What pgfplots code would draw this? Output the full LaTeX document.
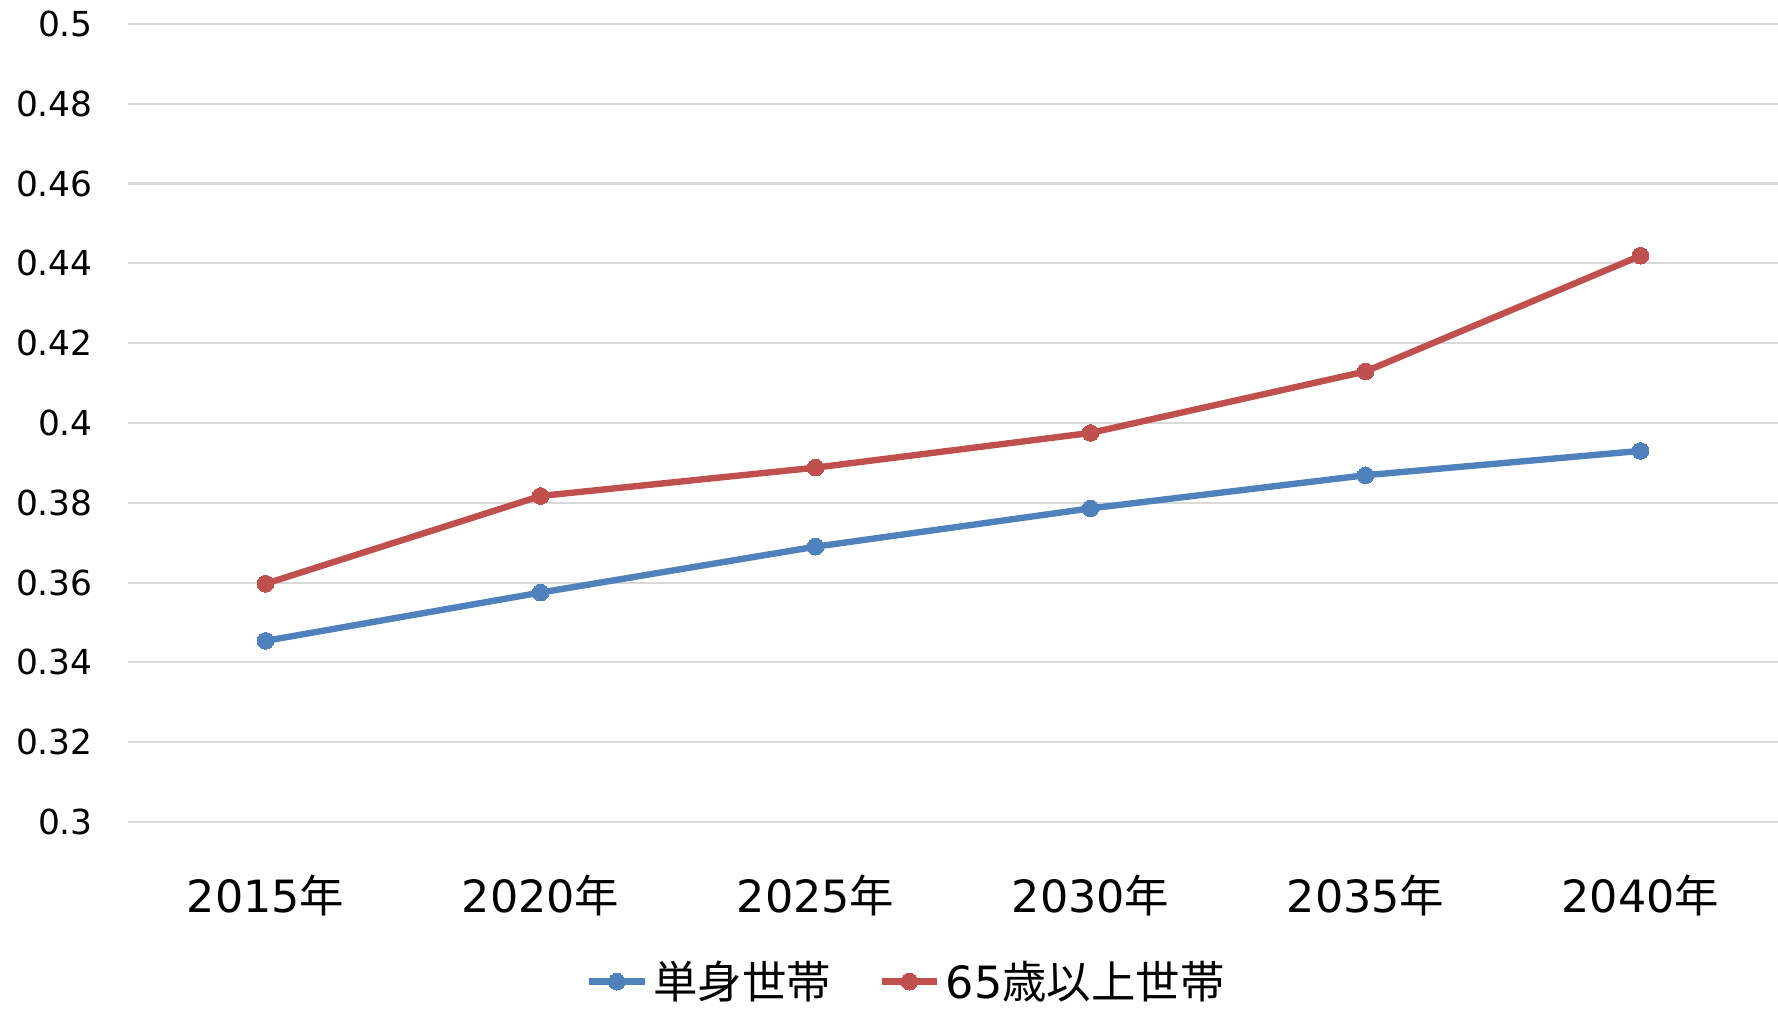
\documentclass[border=0pt]{standalone}
\usepackage{pgfplots}
\pgfplotsset{compat=1.18}
\usepackage{fontspec}
\setmainfont{DejaVu Sans}
\newfontfamily\jp{Noto Sans CJK JP}
\definecolor{serA}{HTML}{4F81BD}
\definecolor{serB}{HTML}{C0504D}
\definecolor{gridc}{HTML}{D9D9D9}
\begin{document}
\begin{tikzpicture}
\useasboundingbox (0,0) rectangle (640pt,362.9pt);
\begin{axis}[
  at={(46.1pt,67pt)}, anchor=south west,
  scale only axis, width=593.9pt, height=287.3pt,
  xmin=-0.5, xmax=5.5, ymin=0.3, ymax=0.5,
  axis line style={draw=none},
  major tick length=0pt,
  ymajorgrids, grid style={gridc, line width=0.75pt},
  ytick={0.3,0.32,...,0.5},
  yticklabels={0.3,0.32,0.34,0.36,0.38,0.4,0.42,0.44,0.46,0.48,0.5},
  yticklabel style={font=\fontsize{12.4}{14}\selectfont, anchor=east, inner sep=0pt, xshift=-12.5pt},
  xtick={0,1,2,3,4,5},
  xticklabels={2015{\jp 年},2020{\jp 年},2025{\jp 年},2030{\jp 年},2035{\jp 年},2040{\jp 年}},
  xticklabel style={font=\fontsize{16}{18}\selectfont, anchor=center, inner sep=0pt, yshift=-26.6pt},
  legend columns=2,
  legend style={draw=none, fill=none, at={(0.4727,-0.2000)}, anchor=center,
    font=\fontsize{16}{18}\selectfont, inner sep=0pt,
    /tikz/every odd column/.append style={column sep=0pt},
    /tikz/every even column/.append style={column sep=15pt}},
  legend image code/.code={\draw[mark repeat=2,mark phase=2] plot coordinates {(0pt,0pt)(10pt,0pt)(20pt,0pt)};},
  every axis plot/.append style={line width=2.3pt, mark=*, mark size=3pt},
]
\addplot[serA, mark options={fill=serA, draw=serA, line width=0pt}] coordinates {
  (0,0.3454) (1,0.3575) (2,0.3690) (3,0.3786) (4,0.3869) (5,0.3930)};
\addlegendentry{\jp 単身世帯}
\addplot[serB, mark options={fill=serB, draw=serB, line width=0pt}] coordinates {
  (0,0.3597) (1,0.3817) (2,0.3888) (3,0.3975) (4,0.4129) (5,0.4419)};
\addlegendentry{65{\jp 歳以上世帯}}
\end{axis}
\end{tikzpicture}
\end{document}
